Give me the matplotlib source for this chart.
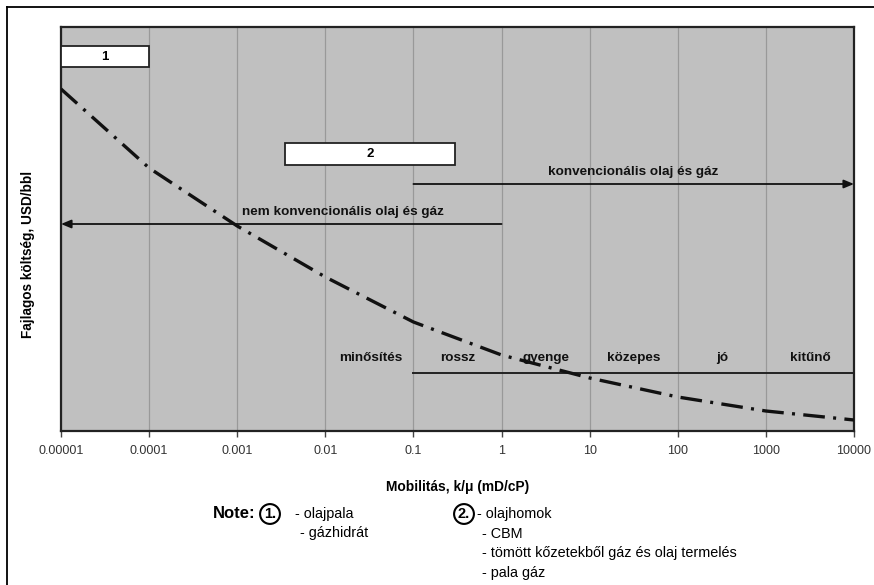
import matplotlib
matplotlib.use("Agg")
import matplotlib.pyplot as plt
from matplotlib.patches import Rectangle
from matplotlib.lines import Line2D

plt.rcParams['font.family'] = ['Liberation Sans', 'DejaVu Sans']

# ---- data ----
mobility = [1e-5, 1e-4, 1e-3, 1e-2, 1e-1, 1, 10, 100, 1000, 10000]
cost = [342, 263, 205, 154, 109, 76, 53, 34, 20, 11]
tick_values = [1e-5, 1e-4, 1e-3, 1e-2, 1e-1, 1, 10, 100, 1000, 10000]
tick_labels = ["0.00001", "0.0001", "0.001", "0.01", "0.1", "1", "10", "100", "1000", "10000"]
quality_labels = ["rossz", "gyenge", "közepes", "jó", "kitűnő"]
quality_centers = [0.316, 3.16, 31.6, 316, 3162]
notes1 = ["- olajpala", "- gázhidrát"]
notes2 = ["- olajhomok", "- CBM", "- tömött kőzetekből gáz és olaj termelés", "- pala gáz"]

W, H = 874, 585
fig = plt.figure(figsize=(W / 100, H / 100), dpi=100)
fig.patch.set_facecolor("white")
ax = fig.add_axes([61 / W, 1 - 431 / H, (854 - 61) / W, (431 - 27) / H])
ax.set_facecolor("#c0c0c0")
ax.set_xscale("log")
ax.set_xlim(1e-5, 1e4)
ax.set_ylim(0, 404)

ax.set_xticks(tick_values)
ax.set_xticklabels(tick_labels)
ax.minorticks_off()
ax.tick_params(axis="x", direction="out", length=4, width=1, color="#444444",
               labelsize=9, labelcolor="#333333", pad=6)
ax.set_yticks([])
ax.grid(axis="x", color="#999999", lw=0.9)
ax.set_axisbelow(True)
for s in ax.spines.values():
    s.set_color("#222222")
    s.set_linewidth(1.6)

ax.plot(mobility, cost, color="#111111", lw=2.4,
        ls=(0, (6.5, 2.5, 0.9, 2.5)), zorder=3)

# boxes
for (x0, x1, y0, y1, lab) in [(1e-5, 1e-4, 364, 385, "1"), (3.47e-3, 0.295, 266, 288, "2")]:
    ax.add_patch(Rectangle((x0, y0), x1 - x0, y1 - y0, facecolor="white",
                           edgecolor="#222222", lw=1.3, zorder=4, clip_on=False))
    ax.text((x0 * x1) ** 0.5, (y0 + y1) / 2, lab, ha="center", va="center",
            fontsize=9.5, fontweight="bold", zorder=5)

# arrows
ax.annotate("", xy=(1e-5, 207), xytext=(1, 207),
            arrowprops=dict(arrowstyle="-|>,head_length=0.6,head_width=0.25",
                            color="#111111", lw=1.3, shrinkA=0, shrinkB=0))
ax.text(10 ** -1.8, 219, "nem konvencionális olaj és gáz", ha="center", va="center",
        fontsize=9.7, fontweight="bold", color="#111111")
ax.annotate("", xy=(1e4, 247), xytext=(0.1, 247),
            arrowprops=dict(arrowstyle="-|>,head_length=0.6,head_width=0.25",
                            color="#111111", lw=1.3, shrinkA=0, shrinkB=0))
ax.text(10 ** 1.49, 259, "konvencionális olaj és gáz", ha="center", va="center",
        fontsize=9.7, fontweight="bold", color="#111111")

# quality scale
ax.plot([0.1, 1e4], [58, 58], color="#222222", lw=1.4)
ax.text(10 ** -1.49, 73, "minősítés", ha="center", va="center",
        fontsize=9.7, fontweight="bold", color="#111111")
for xc, lab in zip(quality_centers, quality_labels):
    ax.text(xc, 73, lab, ha="center", va="center", fontsize=9.7,
            fontweight="bold", color="#111111")

ax.set_xlabel("Mobilitás, k/μ (mD/cP)", fontsize=9.9, fontweight="bold", labelpad=17)
fig.text(28 / W, 1 - 254 / H, "Fajlagos költség, USD/bbl", rotation=90,
         ha="center", va="center", fontsize=9.8, fontweight="bold")

# notes
fig.text(234 / W, 1 - 514 / H, "Note:", ha="center", va="center",
         fontsize=12, fontweight="bold")
circ = dict(boxstyle="circle,pad=0.2", fc="white", ec="black", lw=1.5)
fig.text(270 / W, 1 - 514 / H, "1.", ha="center", va="center",
         fontsize=10.5, fontweight="bold", bbox=circ)
fig.text(464 / W, 1 - 514 / H, "2.", ha="center", va="center",
         fontsize=10.5, fontweight="bold", bbox=circ)
for i, t in enumerate(notes1):
    fig.text((295 + 5 * (i > 0)) / W, 1 - (514 + 19.5 * i) / H, t,
             ha="left", va="center", fontsize=10.4)
for i, t in enumerate(notes2):
    fig.text((477 + 5 * (i > 0)) / W, 1 - (514 + 19.5 * i) / H, t,
             ha="left", va="center", fontsize=10.4)

# outer frame lines
fig.add_artist(Line2D([7 / W, 1], [1 - 7 / H, 1 - 7 / H], color="black", lw=1.3))
fig.add_artist(Line2D([7 / W, 7 / W], [1 - 7 / H, 0], color="black", lw=1.3))

fig.savefig("out.png", dpi=100)
